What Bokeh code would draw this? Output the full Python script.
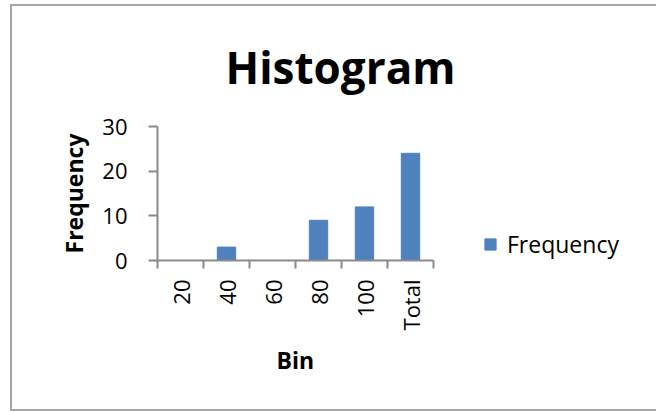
import math
from bokeh.plotting import figure
from bokeh.models import (ColumnDataSource, Range1d, LinearAxis, FixedTicker, Legend, LegendItem, Title)
from bokeh.embed import file_html
from bokeh.resources import INLINE

bins = ["20", "40", "60", "80", "100", "Total"]
frequency = [0, 3, 0, 9, 12, 24]
y_ticks = [0, 10, 20, 30]

FONT = "Open Sans"
AXIS_COLOR = "#8a8a8a"
BAR_COLOR = "#4F81BD"

n = len(bins)
centers = [i + 0.5 for i in range(n)]
src = ColumnDataSource(dict(x=centers, freq=frequency, bin=bins))

# the frame spans the chart and the legend area; the axes are bounded to the bins
FRAME_W, CHART_W = 489, 276
x_end = n * FRAME_W / CHART_W

p = figure(width=646, height=407, output_backend="svg", toolbar_location=None,
           x_range=Range1d(0, x_end), y_range=Range1d(0, 30),
           x_axis_location=None, y_axis_location=None,
           min_border_left=147, min_border_right=10, min_border_top=120, min_border_bottom=151)
p.border_fill_color = None
p.background_fill_color = None
p.outline_line_color = None
p.grid.visible = False
p.styles = {"margin-left": "10px", "margin-top": "4px",
            "box-shadow": "inset 2px 2px 0 #a6a6a6, inset 0 -2px 0 #a6a6a6"}

# title
p.title = Title(text="Histogram", align="left", offset=68, text_font=FONT, text_font_size="44px",
                text_font_style="bold", text_color="black", standoff=60)

r = p.vbar(x="x", top="freq", width=0.4, source=src, color=BAR_COLOR)

# y axis
ya = LinearAxis(ticker=FixedTicker(ticks=y_ticks), axis_label="Frequency")
ya.axis_line_color = AXIS_COLOR
ya.axis_line_width = 2
ya.major_tick_line_color = AXIS_COLOR
ya.major_tick_line_width = 2
ya.major_tick_out = 9
ya.major_tick_in = 0
ya.minor_tick_line_color = None
ya.major_label_text_font = FONT
ya.major_label_text_font_size = "22px"
ya.major_label_text_color = "black"
ya.major_label_standoff = 21
ya.axis_label_text_font = FONT
ya.axis_label_text_font_size = "23px"
ya.axis_label_text_font_style = "bold"
ya.axis_label_text_color = "black"
ya.axis_label_standoff = 9
p.add_layout(ya, "left")

# x axis: ticks at category edges (no labels)
xt = LinearAxis(ticker=FixedTicker(ticks=list(range(n + 1))), bounds=(0, n),
                major_label_overrides={i: "" for i in range(n + 1)})
xt.axis_line_color = AXIS_COLOR
xt.axis_line_width = 2
xt.major_tick_line_color = AXIS_COLOR
xt.major_tick_line_width = 2
xt.major_tick_out = 8
xt.major_tick_in = 0
xt.minor_tick_line_color = None
xt.major_label_standoff = 0
p.add_layout(xt, "below")

# x axis: category labels at centres
xa = LinearAxis(ticker=FixedTicker(ticks=centers), bounds=(0, n),
                major_label_overrides={c: b for c, b in zip(centers, bins)})
xa.axis_line_color = None
xa.major_tick_line_color = None
xa.minor_tick_line_color = None
xa.major_label_orientation = math.pi / 2
xa.major_label_text_font = FONT
xa.major_label_text_font_size = "22px"
xa.major_label_text_color = "black"
xa.major_label_standoff = 5
p.add_layout(xa, "below")

# x axis title, centred under the bins
p.add_layout(Title(text="Bin", align="left", offset=119, text_font=FONT, text_font_size="23px",
                   text_font_style="bold", text_color="black", standoff=16), "below")

legend = Legend(items=[LegendItem(label="Frequency", renderers=[r])], location=(326, 0),
                glyph_width=14, glyph_height=14, label_standoff=10, padding=0, margin=0,
                border_line_color=None, background_fill_color=None,
                label_text_font=FONT, label_text_font_size="23px", label_text_color="black")
p.add_layout(legend)

open("out.html", "w").write(file_html(p, INLINE))
